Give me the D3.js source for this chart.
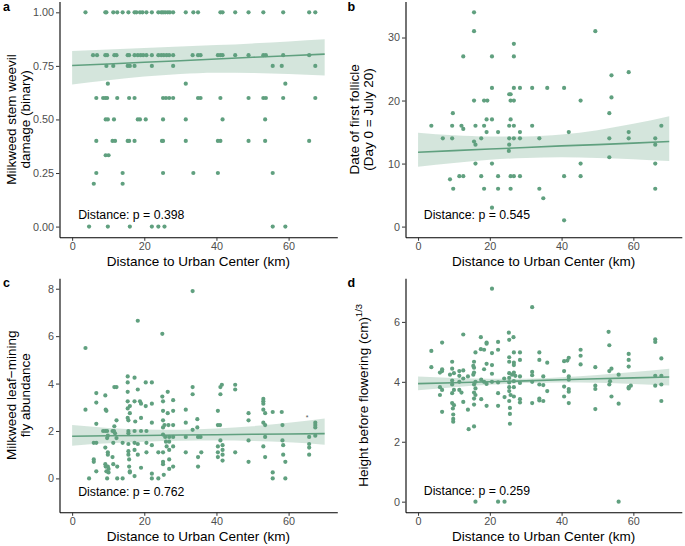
<!DOCTYPE html>
<html>
<head>
<meta charset="utf-8">
<script src="https://cdn.jsdelivr.net/npm/d3@7"></script>
<style>
  body { margin: 0; background: #fff; }
  svg { font-family: "Liberation Sans", Arial, Helvetica, sans-serif; }
</style>
</head>
<body>
<div id="fig"></div>
<script>
// ---- data ----
const xTicks = [0, 20, 40, 60];
const fitX = [0, 10, 20, 30, 40, 50, 60, 70];

// a: weevil damage, distances grouped by damage level
const weevilLevels = [1, 0.8, 0.75, 0.667, 0.6, 0.5, 0.4, 0.333, 0.25, 0.2, 0];
const weevilDist = [
  [3.7, 9.2, 9.5, 11.4, 12.5, 14.0, 15.6, 17.3, 17.8, 18.8, 19.5, 20.6, 22.1, 23.9, 24.7, 25.2, 25.8, 26.5, 27.1, 28.0, 31.5, 33.6, 34.9, 41.1, 41.7, 45.2, 48.9, 53.0, 58.5, 65.7, 67.4],
  [5.8, 6.9, 9.2, 9.7, 11.7, 12.3, 15.4, 15.8, 17.3, 18.2, 19.0, 19.7, 20.6, 22.1, 23.9, 24.7, 25.4, 26.2, 26.9, 28.0, 33.4, 34.9, 35.6, 40.4, 41.1, 41.7, 45.2, 48.9, 53.0, 53.7, 58.5, 65.7],
  [9.5, 11.4, 15.4, 16.0, 17.3, 22.1, 28.0, 55.6, 58.1, 67.4],
  [9.9, 31.5, 59.1],
  [6.7, 8.6, 9.2, 9.7, 12.5, 15.8, 17.3, 25.2, 26.0, 26.9, 28.0, 34.9, 35.6, 41.1, 48.9, 53.0, 53.7, 58.5, 67.4],
  [9.3, 9.9, 11.6, 18.2, 18.8, 20.4, 25.2, 31.5, 41.7, 53.5],
  [6.7, 11.2, 11.9, 15.4, 15.8, 17.3, 24.9, 25.2, 31.5, 40.4, 41.1, 48.9, 53.5, 65.7],
  [9.3, 10.1],
  [6.7, 14.0, 25.2, 33.6, 40.4, 55.6],
  [6.0, 14.0],
  [4.7, 9.9, 16.0, 22.1, 23.9, 25.6, 55.6, 59.1]
];
const weevilFit = [0.752, 0.759, 0.767, 0.774, 0.782, 0.790, 0.797, 0.805];
const weevilLo  = [0.663, 0.683, 0.700, 0.712, 0.718, 0.717, 0.712, 0.705];
const weevilHi  = [0.820, 0.826, 0.833, 0.840, 0.847, 0.855, 0.864, 0.874];

// b: date of first follicle
const follicle = [
  [3.7,16],[6.9,14],[8.9,7.5],[9.5,16],[9.5,14],[9.7,18],[9.8,6],[11.5,8],[12.1,16],[12.6,15.5],
  [12.6,8],[12.6,27],[15.6,34],[15.6,31],[15.6,20],[15.6,13.5],[16.0,13],[16.0,16],[16.0,10],[17.6,8],
  [17.6,14],[18.4,16],[18.4,6],[18.4,20],[19.3,20],[19.1,17],[19.1,15],[20.6,27],[20.6,22],[20.6,17],
  [20.6,10],[20.6,3],[22.3,15],[22.3,8],[22.3,6],[25.3,12],[25.4,21],[25.8,21],[25.4,16],[25.4,14],
  [25.4,13],[25.8,17],[25.8,20],[25.8,8],[25.8,6],[26.7,29],[26.7,27],[26.7,22],[26.7,20],[26.7,16],
  [26.7,14],[26.7,8],[28.4,22],[28.4,15],[28.4,14],[28.4,8],[31.8,22],[31.8,16],[33.8,14],[33.8,6],
  [34.9,4.5],[36.0,22],[40.7,22],[40.7,8],[40.7,1],[42.0,15],[45.3,20],[45.3,10],[45.3,8],[49.4,31],
  [53.3,18],[53.3,14],[53.3,11],[53.9,24],[53.9,20.5],[58.7,24.5],[58.7,15],[58.7,14],[66.1,14],[66.1,13],
  [66.1,10],[66.1,6],[67.8,16]
];
const follicleFit = [11.8, 12.05, 12.3, 12.55, 12.8, 13.0, 13.25, 13.5];
const follicleLo  = [9.5, 10.1, 10.6, 10.9, 11.0, 10.9, 10.7, 10.4];
const follicleHi  = [14.9, 14.5, 14.3, 14.3, 14.6, 15.3, 16.3, 17.5];

// c: leaf-mining fly abundance
const flies = [
  [3.7,5.5],[3.7,2.9],[4.7,0],[6.0,0.8],[6.0,0.7],[6.0,1.5],[6.7,3.6],[6.7,3.2],[6.7,2.3],[6.7,1.5],
  [6.7,0.3],[8.6,2.0],[9.2,3.5],[9.3,2.9],[9.5,2.85],[9.2,2.0],[9.2,1.3],[9.2,0.6],[9.3,0.5],[9.5,0.3],
  [9.7,0],[9.7,2.0],[9.7,1.7],[9.9,1.1],[9.9,1.0],[10.1,0.25],[10.1,0.4],[9.9,0.5],[9.9,1.8],[11.2,2.0],
  [11.2,0.9],[11.4,1.5],[11.6,2.0],[11.7,3.85],[12.3,3.85],[11.7,2.2],[12.3,2.45],[11.9,1.9],[12.3,1.7],[12.5,0.5],
  [11.4,0.6],[12.5,0],[14.0,0],[14.0,1.5],[15.4,4.3],[15.4,4.05],[15.4,3.65],[15.4,3.25],[15.4,2.95],[15.4,2.55],
  [15.6,2.45],[15.6,2.0],[15.6,1.9],[15.6,1.45],[15.6,1.15],[15.6,1.0],[15.8,0.8],[15.8,0.5],[16.0,0.3],[16.0,0.25],
  [16.0,2.75],[16.0,3.05],[17.3,4.25],[17.3,3.25],[17.3,2.0],[17.3,1.5],[17.3,1.2],[17.3,0.1],[17.5,2.4],[18.2,6.65],
  [18.2,3.75],[18.2,1.0],[18.2,1.45],[18.8,3.25],[19.1,3.15],[19.1,2.55],[19.1,2.0],[19.1,0.45],[20.4,4.05],[20.4,3.05],
  [20.6,2.0],[20.6,1.5],[20.6,1.1],[22.1,4.05],[22.1,3.15],[22.1,2.35],[22.1,1.4],[22.1,0.2],[22.1,0],[23.9,1.1],
  [23.9,0],[25.0,6.1],[25.0,3.45],[25.2,3.25],[25.2,2.85],[25.2,2.45],[25.2,2.15],[25.2,1.85],[25.2,1.1],[25.2,0.7],
  [25.2,0.6],[25.4,0.15],[25.6,2.25],[25.8,1.75],[26.0,1.55],[26.2,1.35],[26.5,3.65],[26.5,2.75],[26.7,2.25],[26.9,1.75],
  [26.9,1.55],[26.9,1.2],[26.9,0.8],[26.9,0.4],[28.0,3.3],[28.0,2.85],[28.0,2.25],[28.0,1.75],[28.0,1.35],[28.0,0.5],
  [31.5,2.9],[31.5,2.35],[31.5,1.75],[31.5,1.1],[33.4,3.85],[33.4,3.55],[33.4,2.05],[33.4,7.9],[34.7,2.5],[34.7,2.15],
  [34.9,1.75],[34.9,0.9],[34.9,0.5],[35.6,1.75],[35.8,1.1],[40.4,2.85],[40.4,2.25],[40.4,1.35],[40.4,1.1],[40.4,0.9],
  [41.0,2.25],[41.1,3.85],[41.1,3.55],[41.1,1.6],[41.5,3.95],[41.7,1.4],[41.7,1.2],[41.7,1.0],[41.7,0.75],[45.2,3.95],
  [45.2,3.75],[45.2,1.1],[48.9,2.75],[48.9,2.45],[48.9,1.6],[48.9,0.7],[53.0,3.35],[53.0,3.25],[53.0,3.15],[53.0,2.9],
  [53.0,2.35],[53.0,1.35],[53.5,2.75],[53.5,2.25],[53.5,1.75],[53.5,0.9],[55.6,0.25],[55.6,0],[55.6,2.8],[58.1,2.8],
  [58.3,2.25],[58.3,1.6],[58.5,1.4],[58.5,1.0],[59.1,0.7],[59.1,0],[65.7,1.75],[65.7,1.45],[65.7,1.3],[65.7,1.0],
  [67.4,2.35],[67.4,2.25],[67.4,2.15],[67.4,1.8]
];
const fliesFit = [1.78, 1.80, 1.81, 1.83, 1.84, 1.86, 1.87, 1.89];
const fliesLo  = [1.38, 1.48, 1.55, 1.59, 1.60, 1.58, 1.52, 1.42];
const fliesHi  = [2.25, 2.13, 2.06, 2.05, 2.10, 2.20, 2.35, 2.53];
const fliesStray = [65.1, 2.64];   // small stray asterisk mark in panel c

// d: height before flowering (cube root)
const height = [
  [3.7,5.03],[3.7,4.49],[6.1,3.56],[6.1,3.82],[6.1,4.31],[6.7,5.31],[6.7,4.42],[6.7,4.36],[6.7,3.73],[6.7,3.0],
  [8.9,4.24],[9.5,4.67],[9.5,4.44],[9.5,4.04],[9.5,3.91],[9.5,3.62],[9.5,3.29],[9.7,3.11],[9.8,2.91],[9.8,2.76],
  [9.8,2.67],[10.0,4.29],[10.0,3.73],[10.0,3.22],[11.5,4.36],[11.5,4.2],[11.5,4.0],[11.5,3.73],[12.1,3.64],[12.6,5.58],
  [12.6,4.38],[12.6,4.11],[12.6,3.33],[13.9,4.18],[13.9,3.07],[14.1,2.42],[15.4,4.53],[15.4,4.24],[15.6,4.67],[15.6,4.47],
  [15.6,4.31],[15.6,3.91],[15.6,3.64],[15.6,3.44],[15.6,3.24],[15.6,2.51],[16.0,4.98],[16.0,4.0],[16.0,3.78],[16.0,3.56],
  [16.0,0],[17.5,5.49],[17.5,5.09],[17.6,4.07],[17.6,3.42],[18.4,5.07],[18.4,4.42],[18.4,4.0],[19.1,5.31],[19.1,5.27],
  [19.1,4.6],[19.1,3.93],[19.1,3.2],[20.6,7.11],[20.6,4.96],[20.6,4.56],[20.6,4.27],[20.6,4.0],[22.3,5.33],[22.3,5.07],
  [22.3,3.98],[22.3,3.62],[22.3,3.2],[22.3,0],[24.1,0],[24.0,4.11],[24.1,3.49],[25.3,5.64],[25.4,5.4],[25.4,4.82],
  [25.4,4.67],[25.4,4.29],[25.4,4.13],[25.4,3.98],[25.4,3.82],[25.4,3.69],[25.4,3.36],[25.6,3.13],[25.6,2.93],[25.6,2.6],
  [25.8,3.56],[26.2,4.24],[26.6,5.49],[26.7,4.98],[26.7,4.64],[26.7,4.56],[26.7,4.31],[26.7,4.02],[26.7,3.82],[26.7,3.51],
  [27.1,4.2],[28.4,4.98],[28.4,4.73],[28.4,4.18],[28.4,3.96],[28.4,3.42],[28.4,3.31],[31.8,6.49],[31.8,4.33],[31.8,4.22],
  [31.8,4.0],[31.8,3.29],[33.8,4.98],[33.8,4.73],[33.8,3.91],[33.8,3.44],[33.8,3.38],[34.9,4.18],[34.9,3.89],[34.9,3.36],
  [36.0,4.64],[36.0,3.69],[40.7,4.36],[40.7,4.69],[40.7,3.84],[40.7,3.51],[41.6,4.71],[42.0,4.8],[42.0,4.18],[42.0,4.07],
  [42.0,3.76],[42.0,3.67],[42.0,3.29],[45.3,5.07],[45.3,4.87],[45.3,4.58],[49.4,4.49],[49.4,3.87],[49.4,3.76],[49.4,3.09],
  [53.1,5.67],[53.3,5.22],[53.3,4.36],[53.5,4.02],[53.3,3.91],[53.9,4.44],[53.9,3.51],[55.9,4.24],[55.9,3.27],[55.9,0],
  [58.7,4.93],[58.7,4.73],[58.7,4.51],[58.7,3.78],[58.7,3.82],[59.3,3.87],[66.1,5.42],[66.1,5.33],[66.1,4.2],[66.1,3.87],
  [67.8,4.78],[67.8,4.2],[67.8,3.91],[67.8,3.36]
];
const heightFit = [3.94, 3.97, 4.00, 4.03, 4.07, 4.10, 4.13, 4.16];
const heightLo  = [3.72, 3.82, 3.90, 3.96, 3.98, 3.97, 3.93, 3.88];
const heightHi  = [4.18, 4.13, 4.10, 4.10, 4.15, 4.23, 4.33, 4.44];

// ---- drawing ----
const W = 685, H = 546;
const green = "#60a07f";
const svg = d3.select("#fig").append("svg")
  .attr("width", W).attr("height", H)
  .attr("viewBox", `0 0 ${W} ${H}`);

let weevilPts = [];
weevilLevels.forEach((lv, i) => weevilDist[i].forEach(d => weevilPts.push([d, lv])));

let panels = [
  {label: "a", box: {l: 59.5, r: 337.3, t: 1.6, b: 237.3}, ydom: [-0.05, 1.05],
   yticks: [0, 0.25, 0.5, 0.75, 1], yfmt: d3.format(".2f"),
   pts: weevilPts, fit: weevilFit, lo: weevilLo, hi: weevilHi,
   note: "Distance: p = 0.398", noteY: 0.056,
   ytitle: ["Milkweed stem weevil", "damage (binary)"], ytx: [16.3, 30.3]},
  {label: "b", box: {l: 405.5, r: 681.8, t: 1.6, b: 237.3}, ydom: [-1.7, 35.7],
   yticks: [0, 10, 20, 30], yfmt: d3.format("d"),
   pts: follicle, fit: follicleFit, lo: follicleLo, hi: follicleHi,
   note: "Distance: p = 0.545", noteY: 1.95,
   ytitle: ["Date of first follicle", "(Day 0 = July 20)"], ytx: [359, 373]},
  {label: "c", box: {l: 59.5, r: 337.3, t: 278.3, b: 512.3}, ydom: [-1.43, 8.44],
   yticks: [0, 2, 4, 6, 8], yfmt: d3.format("d"),
   pts: flies, fit: fliesFit, lo: fliesLo, hi: fliesHi, stray: fliesStray,
   note: "Distance: p = 0.762", noteY: -0.55,
   ytitle: ["Milkweed leaf\u2212mining", "fly abundance"], ytx: [15.5, 29.5]},
  {label: "d", box: {l: 405.5, r: 681.8, t: 278.3, b: 512.3}, ydom: [-0.355, 7.455],
   yticks: [0, 2, 4, 6], yfmt: d3.format("d"),
   pts: height, fit: heightFit, lo: heightLo, hi: heightHi,
   note: "Distance: p = 0.259", noteY: 0.35,
   ytitle: ["Height before flowering (cm)"], sup: "1/3", ytx: [367.5]}
];

panels.forEach(p => {
  let x = d3.scaleLinear().domain([-3.5, 73.5]).range([p.box.l, p.box.r]);
  let y = d3.scaleLinear().domain(p.ydom).range([p.box.b, p.box.t]);
  let g = svg.append("g");

  // confidence ribbon + fitted line
  let band = fitX.map((fx, i) => ({x: fx, lo: p.lo[i], hi: p.hi[i], f: p.fit[i]}));
  g.append("path").datum(band)
    .attr("d", d3.area().x(d => x(d.x)).y0(d => y(d.lo)).y1(d => y(d.hi)).curve(d3.curveMonotoneX))
    .attr("fill", green).attr("fill-opacity", 0.27);

  g.selectAll("circle").data(p.pts).enter().append("circle")
    .attr("cx", d => x(d[0])).attr("cy", d => y(d[1]))
    .attr("r", 2.1).attr("fill", green);

  g.append("path").datum(band)
    .attr("d", d3.line().x(d => x(d.x)).y(d => y(d.f)))
    .attr("fill", "none").attr("stroke", green).attr("stroke-width", 1.6);

  if (p.stray) {
    g.append("text").attr("x", x(p.stray[0])).attr("y", y(p.stray[1])).attr("dy", "0.6em")
      .attr("text-anchor", "middle").style("font-size", "7px").attr("fill", "#555").text("*");
  }

  // axes
  let xa = g.append("g").attr("transform", `translate(0,${p.box.b})`)
    .call(d3.axisBottom(x).tickValues(xTicks).tickSize(3.5).tickSizeOuter(0).tickPadding(2));
  let ya = g.append("g").attr("transform", `translate(${p.box.l},0)`)
    .call(d3.axisLeft(y).tickValues(p.yticks).tickFormat(p.yfmt).tickSize(3.5).tickSizeOuter(0).tickPadding(2));
  [xa, ya].forEach(a => {
    a.select(".domain").attr("stroke", "#000").attr("stroke-width", 1.1);
    a.selectAll(".tick line").attr("stroke", "#333").attr("stroke-width", 1);
    a.selectAll(".tick text").attr("fill", "#4d4d4d").style("font-size", "10.8px")
      .style("font-family", "Liberation Sans, Arial, sans-serif");
  });

  // x title
  g.append("text")
    .attr("x", (p.box.l + p.box.r) / 2).attr("y", p.box.b + 29)
    .attr("text-anchor", "middle").style("font-size", "13.5px").attr("fill", "#000")
    .text("Distance to Urban Center (km)");

  // y title (rotated)
  let cy = (p.box.t + p.box.b) / 2;
  p.ytitle.forEach((line, i) => {
    let t = g.append("text")
      .attr("transform", `translate(${p.ytx[i]},${cy}) rotate(-90)`)
      .attr("text-anchor", "middle").style("font-size", "13.5px").attr("fill", "#000")
      .text(line);
    if (p.sup) {
      t.append("tspan").attr("dy", -6).style("font-size", "9.5px").text(p.sup);
    }
  });

  // p-value note
  g.append("text")
    .attr("x", x(16.4)).attr("y", y(p.noteY)).attr("dy", "0.35em")
    .attr("text-anchor", "middle").style("font-size", "12.3px").attr("fill", "#000")
    .text(p.note);

  // panel letter
  g.append("text")
    .attr("x", p.box.l < 100 ? 3 : 347.5).attr("y", p.box.t + 9)
    .style("font-size", "12.5px").style("font-weight", "bold").attr("fill", "#000")
    .text(p.label);
});
</script>
</body>
</html>
